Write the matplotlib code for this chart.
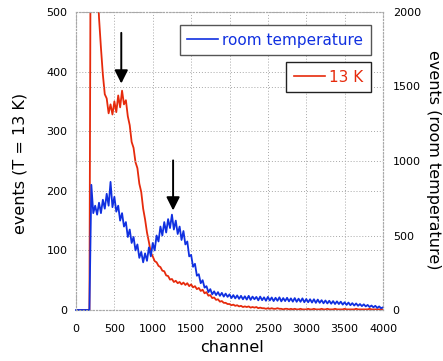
import numpy as np
import matplotlib
matplotlib.use('Agg')
import matplotlib.pyplot as plt
from matplotlib.lines import Line2D

# spectra, one value every 25 channels
channel = np.arange(0, 4001, 25)

events13K = [0, 0, 0, 0, 0, 0, 0, 0,
             1000, 850, 700, 560, 490, 440, 395, 362, 355, 330, 345, 328, 350, 332, 360, 340,
             368, 345, 352, 325, 310, 282, 272, 248, 238, 212, 198, 170, 152, 130, 114, 96,
             90, 82, 80, 74, 72, 66, 65, 58, 57, 51, 52, 47, 49, 45, 47, 43, 46, 42, 45, 40,
             43, 38, 40, 35, 37, 32, 34, 28, 30, 24, 25, 20, 21, 17, 18, 14, 15, 12, 12, 10,
             10, 8, 9, 7, 8, 6, 7, 5, 6, 5, 6, 4, 5, 4, 5, 3, 4, 3, 3, 2,
             3, 2, 3, 2, 2, 3, 2, 2, 1, 2, 2, 1, 2, 1, 2, 1, 1, 2, 1, 1,
             1, 2, 1, 1, 2, 1, 1, 1, 2, 1, 1, 2, 1, 1, 1, 2, 1, 1, 1, 1,
             2, 1, 1, 1, 1, 1, 2, 1, 1, 1, 1, 1, 1, 2, 1, 1, 1, 1, 1, 1, 1]

eventsRoom = [0, 0, 0, 0, 0, 0, 0, 0,
              840, 650, 700, 640, 720, 650, 740, 680, 780, 700, 860, 690, 760, 660, 700, 600,
              650, 560, 590, 490, 540, 450, 490, 400, 440, 350, 390, 320, 380, 330, 420, 360,
              450, 400, 500, 460, 560, 500, 590, 520, 610, 550, 640, 540, 600, 510, 560, 470,
              530, 440, 460, 360, 370, 290, 310, 230, 240, 180, 200, 150, 160, 120, 140, 105,
              125, 100, 120, 95, 115, 90, 110, 88,
              105, 80, 100, 78, 98, 75, 95, 72, 92, 70, 95, 68, 90, 72, 88, 65, 90, 66, 85, 62,
              88, 64, 84, 60, 82, 62, 85, 58, 80, 60, 82, 58, 78, 56, 80, 55, 76, 55, 78, 52,
              74, 52, 72, 50, 72, 48, 70, 48, 66, 45, 64, 44, 62, 42, 60, 40, 58, 40, 56, 36,
              52, 34, 50, 32, 46, 30, 44, 28, 40, 26, 38, 24, 34, 20, 30, 18, 28, 14, 24, 12, 18]

xTicks = [0, 500, 1000, 1500, 2000, 2500, 3000, 3500, 4000]
leftTicks = [0, 100, 200, 300, 400, 500]
rightTicks = [0, 500, 1000, 1500, 2000]

# arrows (channel, top, tip) in T = 13 K units
arrows = [(590, 465, 380), (1265, 251, 167)]

red = '#e62a0c'
blue = '#1030e0'
gridColor = '#a8a8a8'
dots = (0, (1, 2))

plt.rcParams['font.family'] = 'DejaVu Sans'

fig = plt.figure(figsize=(4.43, 3.61), dpi=100)
ax = fig.add_axes([76 / 443, 1 - 310 / 361, 307 / 443, 298 / 361])
ax.plot(channel, events13K, color=red, linewidth=1.3)
ax.set_xlim(0, 4000)
ax.set_ylim(0, 500)
ax.set_xticks(xTicks)
ax.set_yticks(leftTicks)
ax.grid(True, color=gridColor, linestyle=dots, linewidth=0.7)

ax2 = ax.twinx()
ax2.plot(channel, eventsRoom, color=blue, linewidth=1.3, clip_on=False)
ax2.set_ylim(0, 2000)
ax2.set_yticks(rightTicks)
ax2.grid(True, axis='y', color=gridColor, linestyle=dots, linewidth=0.7)

for a in (ax, ax2):
    for s in a.spines.values():
        s.set_color(gridColor)
        s.set_linestyle(dots)
        s.set_linewidth(0.8)

ax.tick_params(axis='both', length=0, labelsize=8)
ax.tick_params(axis='y', pad=6)
ax.tick_params(axis='x', pad=10)
ax2.tick_params(axis='y', length=0, labelsize=8, pad=7)

fig.text(232 / 443, 1 - 348 / 361, 'channel', fontsize=11.5, ha='center', va='center')
fig.text(20 / 443, 1 - 163 / 361, 'events (T = 13 K)', fontsize=11.5, rotation=90,
         ha='center', va='center')
fig.text(434 / 443, 1 - 160 / 361, 'events (room temperature)', fontsize=11.5, rotation=270,
         ha='center', va='center')

for x, top, tip in arrows:
    ax2.annotate('', xy=(x, tip), xytext=(x, top), xycoords=ax.transData, textcoords=ax.transData,
                 arrowprops=dict(arrowstyle='-|>', color='black', lw=1.4, mutation_scale=20,
                                 shrinkA=0, shrinkB=0))

# two separate legend boxes
legRoom = fig.legend([Line2D([], [], color=blue, linewidth=1.2)], ['room temperature'],
                     loc='upper right', bbox_to_anchor=(371 / 443, 1 - 25 / 361),
                     fontsize=11, handlelength=2.0, handletextpad=0.3, borderpad=0.5,
                     borderaxespad=0, fancybox=False, framealpha=1, edgecolor='#555555')
leg13 = fig.legend([Line2D([], [], color=red, linewidth=1.2)], ['13 K'],
                   loc='upper right', bbox_to_anchor=(371 / 443, 1 - 62 / 361),
                   fontsize=11, handlelength=2.0, handletextpad=0.3, borderpad=0.5,
                   borderaxespad=0, fancybox=False, framealpha=1, edgecolor='#222222')
legRoom.get_texts()[0].set_color(blue)
leg13.get_texts()[0].set_color(red)
for leg in (legRoom, leg13):
    leg.get_frame().set_linewidth(1.0)

plt.savefig('out.png', dpi=100)
